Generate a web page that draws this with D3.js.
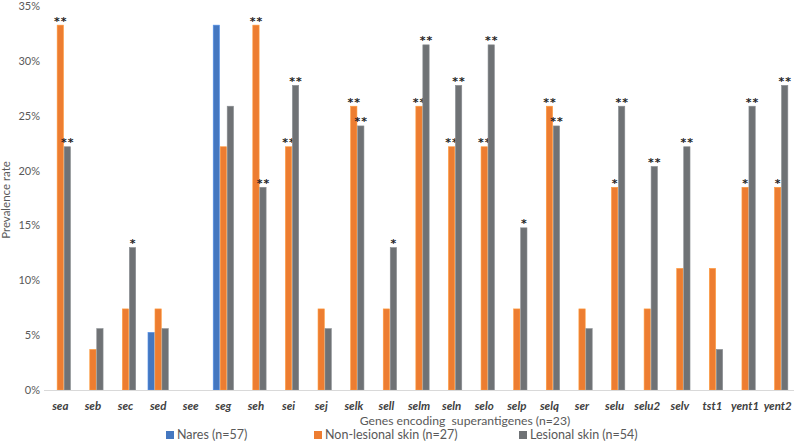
<!DOCTYPE html>
<html><head><meta charset="utf-8">
<script src="https://cdn.jsdelivr.net/npm/d3@7"></script>
<style>body{margin:0;background:#fff}svg{display:block}text{font-family:Lato,"Open Sans",sans-serif}</style>
</head><body><svg id="c" width="800" height="441"></svg>
<script>
const categories = ["sea","seb","sec","sed","see","seg","seh","sei","sej","selk","sell","selm","seln","selo","selp","selq","ser","selu","selu2","selv","tst1","yent1","yent2"];
const seriesNames = ["Nares (n=57)","Non-lesional skin (n=27)","Lesional skin (n=54)"];
const nares =       [0,0,0,5.26,0,33.3,0,0,0,0,0,0,0,0,0,0,0,0,0,0,0,0,0];
const nonLesional = [33.3,3.7,7.4,7.4,0,22.2,33.3,22.2,7.4,25.9,7.4,25.9,22.2,22.2,7.4,25.9,7.4,18.5,7.4,11.1,11.1,18.5,18.5];
const lesional =    [22.2,5.6,13.0,5.6,0,25.9,18.5,27.8,5.6,24.1,13.0,31.5,27.8,31.5,14.8,24.1,5.6,25.9,20.4,22.2,3.7,25.9,27.8];
const sigNonLesional = ["**","","","","","","**","**","","**","","**","**","**","","**","","*","","","","*","*"];
const sigLesional =    ["**","","*","","","","**","**","","**","*","**","**","**","*","**","","**","**","**","","**","**"];
const yTicks = [0,5,10,15,20,25,30,35];
const colors = ["#4477C0","#ED7D31","#6F7275"];

const svg = d3.select("#c");
const x = d3.scaleBand().domain(categories).range([44,794]).paddingInner(0).paddingOuter(0);
const y = d3.scaleLinear().domain([0,35]).range([390,6.5]);
const bw = 6.3, gap = 0.7;

svg.append("g").selectAll("text").data(yTicks).join("text")
  .attr("x",40).attr("y",d=>y(d)).attr("dy","0.35em").attr("text-anchor","end")
  .attr("font-size",11).attr("fill","#595959").text(d=>d+"%");

svg.append("text").attr("transform","translate(10,200) rotate(-90)")
  .attr("text-anchor","middle").attr("font-size",11.5).attr("fill","#595959").text("Prevalence rate");

const series = [nares, nonLesional, lesional];
const sigs = [null, sigNonLesional, sigLesional];
series.forEach((vals,si)=>{
  const g = svg.append("g");
  g.selectAll("rect").data(categories).join("rect")
    .attr("x",(c)=>x(c)+x.bandwidth()/2 + (si-1)*(bw+gap) - bw/2)
    .attr("width",bw)
    .attr("y",(c,i)=>y(vals[i]))
    .attr("height",(c,i)=>y(0)-y(vals[i]))
    .attr("fill",colors[si])
    .attr("stroke",d3.color(colors[si]).brighter(0.6))
    .attr("stroke-width",0.6);
  if (sigs[si]) {
    g.selectAll("text").data(categories).join("text")
      .attr("x",(c)=>x(c)+x.bandwidth()/2 + (si-1)*(bw+gap) + 0.5)
      .attr("y",(c,i)=>y(vals[i])-0.5)
      .attr("text-anchor","middle").attr("font-size",11).attr("font-weight","bold")
      .style("font-family","'DejaVu Sans',sans-serif")
      .attr("fill","#222").attr("letter-spacing",1)
      .text((c,i)=>sigs[si][i]);
  }
});

svg.append("line").attr("x1",44).attr("x2",794).attr("y1",y(0)+0.5).attr("y2",y(0)+0.5)
  .attr("stroke","#D9D9D9").attr("stroke-width",1.2);

svg.append("g").selectAll("text").data(categories).join("text")
  .attr("x",c=>x(c)+x.bandwidth()/2).attr("y",406).attr("dy","0.35em")
  .attr("text-anchor","middle").attr("font-size",11.5).attr("font-style","italic").attr("font-weight","bold")
  .attr("fill","#404040").text(c=>c);

svg.append("text").attr("x",465).attr("y",421).attr("dy","0.35em").attr("text-anchor","middle")
  .attr("font-size",12.2).attr("fill","#595959").attr("xml:space","preserve").text("Genes encoding  superantigenes (n=23)");

const legX = [166,314,519];
const leg = svg.append("g").selectAll("g").data(seriesNames).join("g")
  .attr("transform",(d,i)=>`translate(${legX[i]},435)`);
leg.append("rect").attr("x",0).attr("y",-4).attr("width",8).attr("height",8).attr("fill",(d,i)=>colors[i]);
leg.append("text").attr("x",11).attr("y",0).attr("dy","0.35em").attr("font-size",12.5).attr("fill","#595959").text(d=>d);
</script></body></html>
